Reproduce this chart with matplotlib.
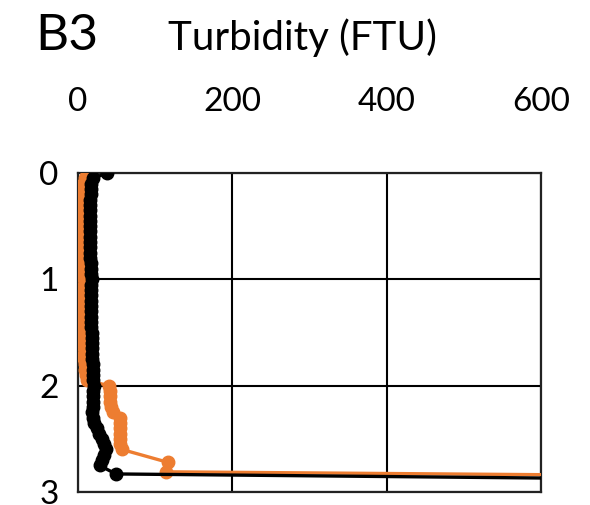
import matplotlib
matplotlib.use("Agg")
import matplotlib.pyplot as plt

plt.rcParams['font.family'] = ['Lato', 'DejaVu Sans']

# Turbidity profiles at station B3 (depth in m, turbidity in FTU)
depth_orange = [0.00, 0.05, 0.10, 0.15, 0.20, 0.25, 0.30, 0.35, 0.40, 0.45,
                0.50, 0.55, 0.60, 0.65, 0.70, 0.75, 0.80, 0.85, 0.90, 0.95,
                1.00, 1.05, 1.10, 1.15, 1.20, 1.25, 1.30, 1.35, 1.40, 1.45,
                1.50, 1.55, 1.60, 1.65, 1.70, 1.75, 1.80, 1.85, 1.90, 1.95,
                2.00, 2.05, 2.10, 2.15, 2.20, 2.25, 2.30, 2.35, 2.40, 2.45,
                2.50, 2.55, 2.60, 2.72, 2.81, 2.87]
turb_orange = [12, 9, 7, 7, 6, 6, 6, 6, 6, 6,
               6, 6, 6, 6, 6, 6, 7, 7, 7, 7,
               8, 8, 7, 7, 7, 7, 7, 6, 6, 6,
               6, 7, 7, 8, 8, 8, 9, 9, 10, 12,
               40, 42, 42, 42, 43, 45, 54, 55, 55, 55,
               55, 55, 57, 116, 114, 1200]

depth_black = [0.00, 0.05, 0.10, 0.15, 0.20, 0.25, 0.30, 0.35, 0.40, 0.45,
               0.50, 0.55, 0.60, 0.65, 0.70, 0.75, 0.80, 0.85, 0.90, 0.95,
               1.00, 1.05, 1.10, 1.15, 1.20, 1.25, 1.30, 1.35, 1.40, 1.45,
               1.50, 1.55, 1.60, 1.65, 1.70, 1.75, 1.80, 1.85, 1.90, 1.95,
               2.00, 2.05, 2.10, 2.15, 2.20, 2.25, 2.30, 2.35, 2.40, 2.45,
               2.50, 2.55, 2.60, 2.65, 2.70, 2.75, 2.83, 2.91]
turb_black = [38, 19, 17, 17, 17, 16, 16, 16, 16, 16,
              16, 16, 16, 16, 16, 16, 16, 17, 17, 17,
              18, 17, 17, 17, 17, 17, 17, 17, 17, 17,
              18, 18, 18, 18, 18, 18, 19, 19, 19, 19,
              21, 20, 20, 19, 19, 18, 19, 21, 24, 27,
              31, 34, 36, 34, 31, 28, 49, 1200]

x_ticks = [0, 200, 400, 600]
y_ticks = [0, 1, 2, 3]

fig = plt.figure(figsize=(5.9, 5.05), dpi=100)
ax = fig.add_axes([0.1322, 0.0257, 0.7847, 0.6317])

ax.plot(turb_orange, depth_orange, color='#ED7D31', lw=2.4, marker='o',
        ms=9, zorder=3)
ax.plot(turb_black, depth_black, color='black', lw=2.4, marker='o',
        ms=9, zorder=4)

ax.set_xlim(0, 600)
ax.set_ylim(3, 0)
ax.set_xticks(x_ticks)
ax.set_yticks(y_ticks)
ax.xaxis.tick_top()
ax.tick_params(axis='both', length=0, labelsize=24, colors='black')
ax.tick_params(axis='x', pad=40)
ax.tick_params(axis='y', pad=14)

ax.grid(True, color='black', lw=1.5, zorder=1)
ax.set_axisbelow(True)
for sp in ax.spines.values():
    sp.set_color('#222222')
    sp.set_linewidth(1.6)

fig.text(0.059, 0.901, 'B3', fontsize=37, ha='left', va='baseline')
fig.text(0.512, 0.901, 'Turbidity (FTU)', fontsize=29, ha='center', va='baseline')

fig.savefig('out.png', dpi=100, facecolor='white')
